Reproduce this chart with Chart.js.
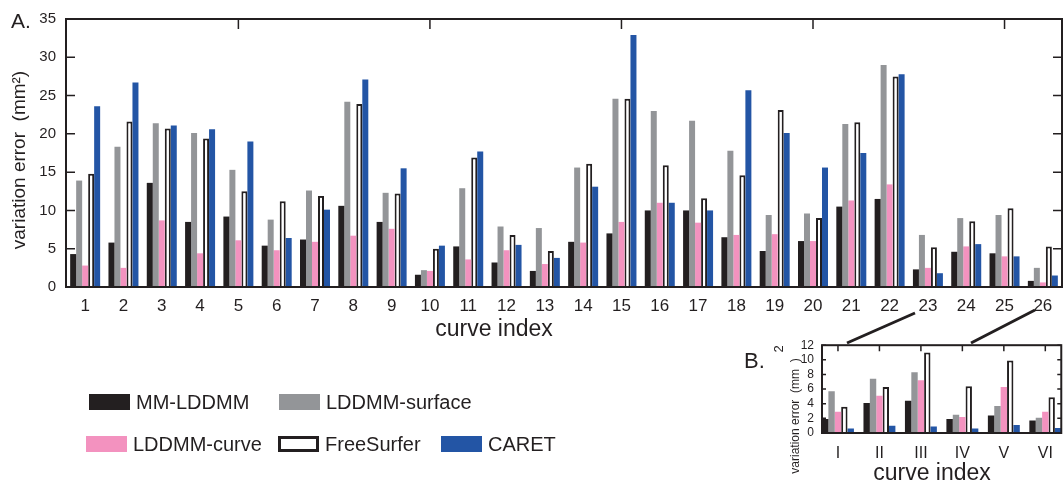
<!DOCTYPE html>
<html>
<head>
  <meta charset="utf-8">
  <script src="https://cdn.jsdelivr.net/npm/chart.js@4.4.1/dist/chart.umd.min.js"></script>
  <style>
    body { margin: 0; background: #fff; }
    #wrap { position: relative; width: 1064px; height: 486px; }
    #main { position: absolute; left: 0; top: 0; }
    #inset { position: absolute; left: 760px; top: 330px; }
  </style>
</head>
<body>
<div id="wrap">
  <canvas id="main" width="1064" height="486"></canvas>
  <canvas id="inset" width="304" height="156"></canvas>
</div>
<script>
  // panel A
  var curves = ['1','2','3','4','5','6','7','8','9','10','11','12','13','14','15','16','17','18','19','20','21','22','23','24','25','26'];
  var mmLddmm   = [4.3, 5.8, 13.6, 8.5, 9.2, 5.4, 6.2, 10.6, 8.5, 1.6, 5.3, 3.2, 2.1, 5.9, 7.0, 10.0, 10.0, 6.5, 4.7, 6.0, 10.5, 11.5, 2.3, 4.6, 4.4, 0.8];
  var lddmmSurf = [13.9, 18.3, 21.4, 20.1, 15.3, 8.8, 12.6, 24.2, 12.3, 2.2, 12.9, 7.9, 7.7, 15.6, 24.6, 23.0, 21.7, 17.8, 9.4, 9.6, 21.3, 29.0, 6.8, 9.0, 9.4, 2.5];
  var lddmmCurve = [2.8, 2.5, 8.7, 4.4, 6.1, 4.8, 5.9, 6.7, 7.6, 2.1, 3.6, 4.8, 3.0, 5.8, 8.5, 11.0, 8.4, 6.8, 6.9, 6.0, 11.3, 13.4, 2.5, 5.3, 4.0, 0.6];
  var freeSurfer = [14.8, 21.6, 20.7, 19.4, 12.5, 11.2, 11.9, 23.9, 12.2, 5.0, 16.9, 6.8, 4.7, 16.1, 24.6, 15.9, 11.6, 14.6, 23.1, 9.0, 21.5, 27.5, 5.2, 8.6, 10.3, 5.3];
  var caret      = [23.6, 26.7, 21.1, 20.6, 19.0, 6.4, 10.1, 27.1, 15.5, 5.4, 17.7, 5.5, 3.8, 13.1, 32.9, 11.0, 10.0, 25.7, 20.1, 15.6, 17.5, 27.8, 1.8, 5.6, 4.0, 1.5];
  var topTicks = ['5','10','15','20','25'];

  // panel B
  var insetCurves = ['I','II','III','IV','V','VI'];
  var insetMm    = [1.9, 4.1, 4.4, 1.9, 2.4, 1.7];
  var insetSurf  = [5.7, 7.4, 8.3, 2.5, 3.7, 2.1];
  var insetCurve = [2.9, 5.1, 7.2, 2.2, 6.3, 2.9];
  var insetFs    = [3.6, 6.3, 11.0, 6.4, 9.9, 4.9];
  var insetCaret = [0.6, 1.0, 0.9, 0.6, 1.1, 0.7];

  var seriesNames = ['MM-LDDMM', 'LDDMM-surface', 'LDDMM-curve', 'FreeSurfer', 'CARET'];

  var ink = '#231f20';
  var fills = ['#231f20', '#939598', '#f392bf', '#ffffff', '#2355a5'];
  var font = 'Liberation Sans, Arial, sans-serif';

  function makeSets(list, asXY) {
    return list.map(function(vals, i) {
      return {
        label: seriesNames[i],
        data: asXY ? vals.map(function(v, k) { return { x: k, y: v }; }) : vals,
        backgroundColor: fills[i],
        borderColor: ink,
        borderWidth: i === 3 ? 2 : 0
      };
    });
  }

  // frame + inward ticks, matlab style
  var framePlugin = {
    id: 'frame',
    afterDatasetsDraw: function(chart, args, o) {
      var ctx = chart.ctx, a = chart.chartArea, x = chart.scales.x, y = chart.scales.y;
      ctx.save();
      ctx.strokeStyle = ink;
      ctx.lineWidth = 1.5;
      ctx.beginPath();
      y.ticks.forEach(function(t) {
        var py = y.getPixelForValue(t.value);
        ctx.moveTo(a.left, py); ctx.lineTo(a.left + o.yLen, py);
        ctx.moveTo(a.right, py); ctx.lineTo(a.right - o.yLen, py);
      });
      o.top.forEach(function(v) {
        var px = x.getPixelForValue(v);
        ctx.moveTo(px, a.top); ctx.lineTo(px, a.top + o.xLen);
      });
      ctx.stroke();
      ctx.lineWidth = 2;
      ctx.strokeRect(a.left, a.top, a.right - a.left, a.bottom - a.top);
      ctx.restore();
    }
  };

  var mainText = {
    id: 'mainText',
    afterDraw: function(chart) {
      var ctx = chart.ctx;
      ctx.save();
      ctx.fillStyle = ink;
      ctx.textBaseline = 'alphabetic';
      ctx.font = '21px ' + font;
      ctx.fillText('A.', 11, 28);
      ctx.font = '22px ' + font;
      ctx.fillText('B.', 744, 368);
      ctx.textAlign = 'center';
      ctx.textBaseline = 'middle';
      ctx.font = '23px ' + font;
      ctx.fillText('curve index', 494, 330);
      ctx.save();
      ctx.translate(20, 160);
      ctx.rotate(-Math.PI / 2);
      ctx.font = '19px ' + font;
      ctx.fillText('variation error  (mm\u00b2)', 0, 0);
      ctx.restore();

      // zoom connectors to panel B
      ctx.strokeStyle = ink;
      ctx.lineWidth = 3;
      ctx.beginPath();
      ctx.moveTo(847, 343); ctx.lineTo(915, 313);
      ctx.moveTo(971, 343); ctx.lineTo(1035, 310);
      ctx.stroke();

      // legend
      var spots = [[89, 394], [279, 394], [86, 436], [278, 436], [441, 436]];
      ctx.textAlign = 'left';
      ctx.font = '20px ' + font;
      chart.data.datasets.forEach(function(ds, i) {
        var p = spots[i];
        ctx.fillStyle = ds.backgroundColor;
        ctx.fillRect(p[0], p[1], 41, 16);
        if (ds.borderWidth) {
          ctx.lineWidth = 3;
          ctx.strokeStyle = ink;
          ctx.strokeRect(p[0] + 1.5, p[1] + 1.5, 38, 13);
        }
        ctx.fillStyle = ink;
        ctx.fillText(ds.label, p[0] + 47, p[1] + 9);
      });
      ctx.restore();
    }
  };

  new Chart(document.getElementById('main'), {
    type: 'bar',
    data: {
      labels: curves,
      datasets: makeSets([mmLddmm, lddmmSurf, lddmmCurve, freeSurfer, caret], false)
    },
    options: {
      responsive: false,
      animation: false,
      devicePixelRatio: 1,
      layout: { padding: { left: 0, top: 16, right: 2, bottom: 141 } },
      datasets: { bar: { categoryPercentage: 0.783, barPercentage: 1 } },
      plugins: {
        legend: { display: false },
        tooltip: { enabled: false },
        frame: { yLen: 9, xLen: 10, top: topTicks.map(function(t) { return curves.indexOf(t); }) }
      },
      scales: {
        x: {
          grid: { display: false, drawTicks: false },
          border: { display: false },
          ticks: { color: ink, font: { family: font, size: 17 }, padding: 9, maxRotation: 0, autoSkip: false },
          afterFit: function(s) { s.height = 58; }
        },
        y: {
          min: 0, max: 35,
          grid: { display: false, drawTicks: false },
          border: { display: false },
          ticks: { stepSize: 5, color: ink, font: { family: font, size: 15 }, padding: 10, autoSkip: false },
          afterFit: function(s) { s.width = 66; }
        }
      }
    },
    plugins: [framePlugin, mainText]
  });

  var insetText = {
    id: 'insetText',
    afterDraw: function(chart) {
      var ctx = chart.ctx;
      ctx.save();
      ctx.fillStyle = ink;
      ctx.textAlign = 'center';
      ctx.textBaseline = 'middle';
      ctx.font = '23px ' + font;
      ctx.fillText('curve index', 172, 144);
      ctx.save();
      ctx.translate(36, 86);
      ctx.rotate(-Math.PI / 2);
      ctx.font = '12px ' + font;
      ctx.fillText('variation error  (mm  )', 0, 0);
      ctx.restore();
      ctx.save();
      ctx.translate(19, 19);
      ctx.rotate(-Math.PI / 2);
      ctx.font = '13px ' + font;
      ctx.fillText('2', 0, 0);
      ctx.restore();
      ctx.restore();
    }
  };

  new Chart(document.getElementById('inset'), {
    type: 'bar',
    data: {
      datasets: makeSets([insetMm, insetSurf, insetCurve, insetFs, insetCaret], true)
    },
    options: {
      responsive: false,
      animation: false,
      devicePixelRatio: 1,
      layout: { padding: { left: 0, top: 13, right: 2, bottom: 0 } },
      datasets: { bar: { categoryPercentage: 0.77, barPercentage: 1 } },
      plugins: {
        legend: { display: false },
        tooltip: { enabled: false },
        frame: { yLen: 4, xLen: 6, top: insetCurves.map(function(c, i) { return i; }) }
      },
      scales: {
        x: {
          type: 'linear',
          offset: false,
          min: -0.385, max: 5.385,
          grid: { display: false, drawTicks: false, offset: false },
          border: { display: false },
          afterBuildTicks: function(s) { s.ticks = insetCurves.map(function(c, i) { return { value: i }; }); },
          ticks: {
            color: ink, font: { family: font, size: 16 }, padding: 11, maxRotation: 0, autoSkip: false,
            callback: function(v) { return insetCurves[v]; }
          },
          afterFit: function(s) { s.height = 53; }
        },
        y: {
          min: 0, max: 12,
          grid: { display: false, drawTicks: false },
          border: { display: false },
          ticks: { stepSize: 2, color: ink, font: { family: font, size: 12 }, padding: 8, autoSkip: false },
          afterFit: function(s) { s.width = 62; }
        }
      }
    },
    plugins: [framePlugin, insetText]
  });
</script>
</body>
</html>
